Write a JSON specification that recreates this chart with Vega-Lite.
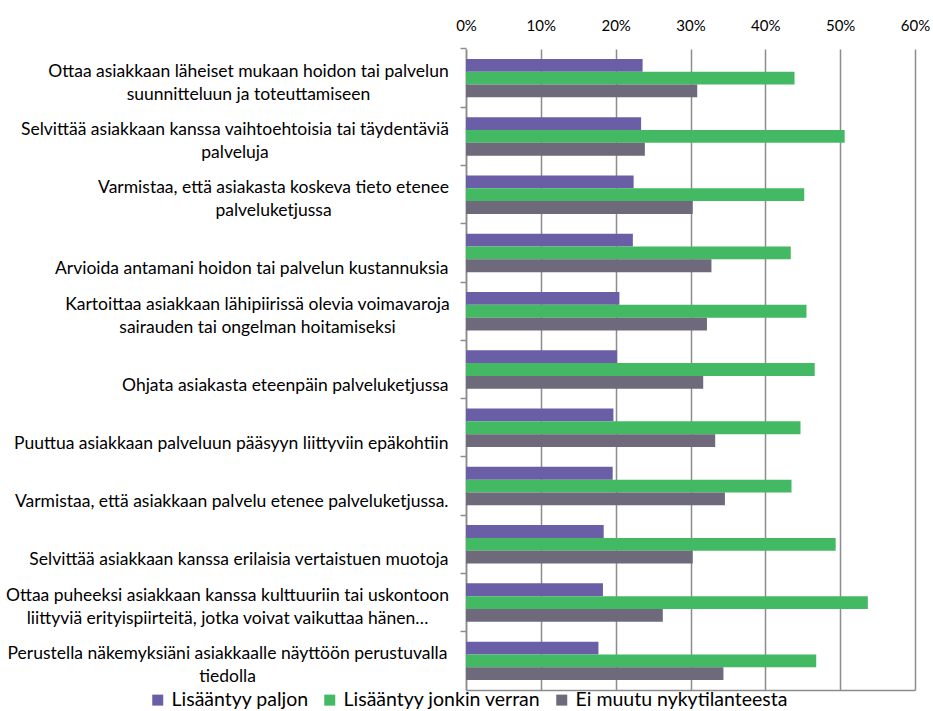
{
  "$schema": "https://vega.github.io/schema/vega-lite/v6.json",
  "width": 449,
  "height": 641,
  "autosize": {"type": "none"},
  "padding": {"left": 466, "top": 49, "right": 18, "bottom": 21},
  "background": "white",
  "config": {"view": {"stroke": null}, "font": "Lato"},
  "data": {
    "values": [
      {"item": "Ottaa asiakkaan läheiset mukaan hoidon tai palvelun|suunnitteluun ja toteuttamiseen", "series": "Lisääntyy paljon", "value": 0.236},
      {"item": "Ottaa asiakkaan läheiset mukaan hoidon tai palvelun|suunnitteluun ja toteuttamiseen", "series": "Lisääntyy jonkin verran", "value": 0.439},
      {"item": "Ottaa asiakkaan läheiset mukaan hoidon tai palvelun|suunnitteluun ja toteuttamiseen", "series": "Ei muutu nykytilanteesta", "value": 0.309},
      {"item": "Selvittää asiakkaan kanssa vaihtoehtoisia tai täydentäviä|palveluja", "series": "Lisääntyy paljon", "value": 0.234},
      {"item": "Selvittää asiakkaan kanssa vaihtoehtoisia tai täydentäviä|palveluja", "series": "Lisääntyy jonkin verran", "value": 0.506},
      {"item": "Selvittää asiakkaan kanssa vaihtoehtoisia tai täydentäviä|palveluja", "series": "Ei muutu nykytilanteesta", "value": 0.239},
      {"item": "Varmistaa, että asiakasta koskeva tieto etenee|palveluketjussa", "series": "Lisääntyy paljon", "value": 0.224},
      {"item": "Varmistaa, että asiakasta koskeva tieto etenee|palveluketjussa", "series": "Lisääntyy jonkin verran", "value": 0.452},
      {"item": "Varmistaa, että asiakasta koskeva tieto etenee|palveluketjussa", "series": "Ei muutu nykytilanteesta", "value": 0.303},
      {"item": "Arvioida antamani hoidon tai palvelun kustannuksia", "series": "Lisääntyy paljon", "value": 0.223},
      {"item": "Arvioida antamani hoidon tai palvelun kustannuksia", "series": "Lisääntyy jonkin verran", "value": 0.434},
      {"item": "Arvioida antamani hoidon tai palvelun kustannuksia", "series": "Ei muutu nykytilanteesta", "value": 0.328},
      {"item": "Kartoittaa asiakkaan lähipiirissä olevia voimavaroja|sairauden tai ongelman hoitamiseksi", "series": "Lisääntyy paljon", "value": 0.205},
      {"item": "Kartoittaa asiakkaan lähipiirissä olevia voimavaroja|sairauden tai ongelman hoitamiseksi", "series": "Lisääntyy jonkin verran", "value": 0.455},
      {"item": "Kartoittaa asiakkaan lähipiirissä olevia voimavaroja|sairauden tai ongelman hoitamiseksi", "series": "Ei muutu nykytilanteesta", "value": 0.322},
      {"item": "Ohjata asiakasta eteenpäin palveluketjussa", "series": "Lisääntyy paljon", "value": 0.202},
      {"item": "Ohjata asiakasta eteenpäin palveluketjussa", "series": "Lisääntyy jonkin verran", "value": 0.466},
      {"item": "Ohjata asiakasta eteenpäin palveluketjussa", "series": "Ei muutu nykytilanteesta", "value": 0.317},
      {"item": "Puuttua asiakkaan palveluun pääsyyn liittyviin epäkohtiin", "series": "Lisääntyy paljon", "value": 0.197},
      {"item": "Puuttua asiakkaan palveluun pääsyyn liittyviin epäkohtiin", "series": "Lisääntyy jonkin verran", "value": 0.447},
      {"item": "Puuttua asiakkaan palveluun pääsyyn liittyviin epäkohtiin", "series": "Ei muutu nykytilanteesta", "value": 0.333},
      {"item": "Varmistaa, että asiakkaan palvelu etenee palveluketjussa.", "series": "Lisääntyy paljon", "value": 0.196},
      {"item": "Varmistaa, että asiakkaan palvelu etenee palveluketjussa.", "series": "Lisääntyy jonkin verran", "value": 0.435},
      {"item": "Varmistaa, että asiakkaan palvelu etenee palveluketjussa.", "series": "Ei muutu nykytilanteesta", "value": 0.346},
      {"item": "Selvittää asiakkaan kanssa erilaisia vertaistuen muotoja", "series": "Lisääntyy paljon", "value": 0.184},
      {"item": "Selvittää asiakkaan kanssa erilaisia vertaistuen muotoja", "series": "Lisääntyy jonkin verran", "value": 0.494},
      {"item": "Selvittää asiakkaan kanssa erilaisia vertaistuen muotoja", "series": "Ei muutu nykytilanteesta", "value": 0.303},
      {"item": "Ottaa puheeksi asiakkaan kanssa kulttuuriin tai uskontoon|liittyviä erityispiirteitä, jotka voivat vaikuttaa hänen…", "series": "Lisääntyy paljon", "value": 0.183},
      {"item": "Ottaa puheeksi asiakkaan kanssa kulttuuriin tai uskontoon|liittyviä erityispiirteitä, jotka voivat vaikuttaa hänen…", "series": "Lisääntyy jonkin verran", "value": 0.537},
      {"item": "Ottaa puheeksi asiakkaan kanssa kulttuuriin tai uskontoon|liittyviä erityispiirteitä, jotka voivat vaikuttaa hänen…", "series": "Ei muutu nykytilanteesta", "value": 0.263},
      {"item": "Perustella näkemyksiäni asiakkaalle näyttöön perustuvalla|tiedolla", "series": "Lisääntyy paljon", "value": 0.177},
      {"item": "Perustella näkemyksiäni asiakkaalle näyttöön perustuvalla|tiedolla", "series": "Lisääntyy jonkin verran", "value": 0.468},
      {"item": "Perustella näkemyksiäni asiakkaalle näyttöön perustuvalla|tiedolla", "series": "Ei muutu nykytilanteesta", "value": 0.344}
    ]
  },
  "layer": [
    {
      "mark": {"type": "bar"},
      "encoding": {
        "y": {
          "field": "item",
          "type": "nominal",
          "sort": null,
          "scale": {"paddingInner": 0.34, "paddingOuter": 0.17},
          "axis": {
            "title": null,
            "bandPosition": -0.2576,
            "labelExpr": "split(datum.value, '|')",
            "labelFontSize": 17.5,
            "labelColor": "#000000",
            "labelAlign": {"condition": {"test": "indexof(datum.value, '|') >= 0", "value": "center"}, "value": "right"},
            "labelBaseline": "alphabetic",
            "labelOffset": {"condition": {"test": "indexof(datum.value, '|') >= 0", "value": -1.5}, "value": 21},
            "labelPadding": {
              "condition": [
                {"test": "indexof(datum.value, 'Ottaa asiakkaan') === 0", "value": 212},
                {"test": "indexof(datum.value, 'Selvittää asiakkaan kanssa vaihto') === 0", "value": 225.5},
                {"test": "indexof(datum.value, 'Varmistaa, että asiakasta') === 0", "value": 187},
                {"test": "indexof(datum.value, 'Kartoittaa') === 0", "value": 203},
                {"test": "indexof(datum.value, 'Ottaa puheeksi') === 0", "value": 233},
                {"test": "indexof(datum.value, 'Perustella') === 0", "value": 233}
              ],
              "value": 12
            },
            "labelLimit": 600,
            "labelLineHeight": 23,
            "tickColor": "#8c8c8c",
            "tickSize": 6,
            "tickWidth": 1.5,
            "domainColor": "#8c8c8c",
            "domainWidth": 1.5,
            "grid": false
          }
        },
        "yOffset": {
          "field": "series",
          "type": "nominal",
          "sort": ["Lisääntyy paljon", "Lisääntyy jonkin verran", "Ei muutu nykytilanteesta"]
        },
        "x": {
          "field": "value",
          "type": "quantitative",
          "scale": {"domain": [0, 0.6], "nice": false},
          "axis": {
            "orient": "top",
            "title": null,
            "values": [0, 0.1, 0.2, 0.3, 0.4, 0.5, 0.6],
            "format": ".0%",
            "labelFontSize": 15,
            "labelColor": "#000000",
            "labelPadding": 16,
            "labelFlush": false,
            "ticks": false,
            "domain": false,
            "grid": true,
            "gridColor": "#8c8c8c",
            "gridWidth": 1.5
          }
        },
        "color": {
          "field": "series",
          "type": "nominal",
          "scale": {
            "domain": ["Lisääntyy paljon", "Lisääntyy jonkin verran", "Ei muutu nykytilanteesta"],
            "range": ["#6a5fa6", "#44b963", "#6e6a7c"]
          },
          "legend": {
            "title": null,
            "orient": "none",
            "direction": "horizontal",
            "columns": 3,
            "legendX": -318,
            "legendY": 641,
            "symbolType": "square",
            "symbolSize": 121,
            "symbolStrokeWidth": 0,
            "symbolOpacity": 1,
            "labelFontSize": 19.5,
            "labelColor": "#000000",
            "labelOffset": 4,
            "columnPadding": 11,
            "labelLimit": 400
          }
        }
      }
    },
    {
      "mark": {"type": "bar", "opacity": 0},
      "encoding": {
        "x": {
          "field": "value",
          "type": "quantitative",
          "axis": {
            "orient": "bottom",
            "title": null,
            "labels": false,
            "ticks": false,
            "grid": false,
            "domain": true,
            "domainColor": "#8c8c8c",
            "domainWidth": 1.5
          }
        }
      }
    }
  ],
  "resolve": {"axis": {"x": "independent"}}
}
